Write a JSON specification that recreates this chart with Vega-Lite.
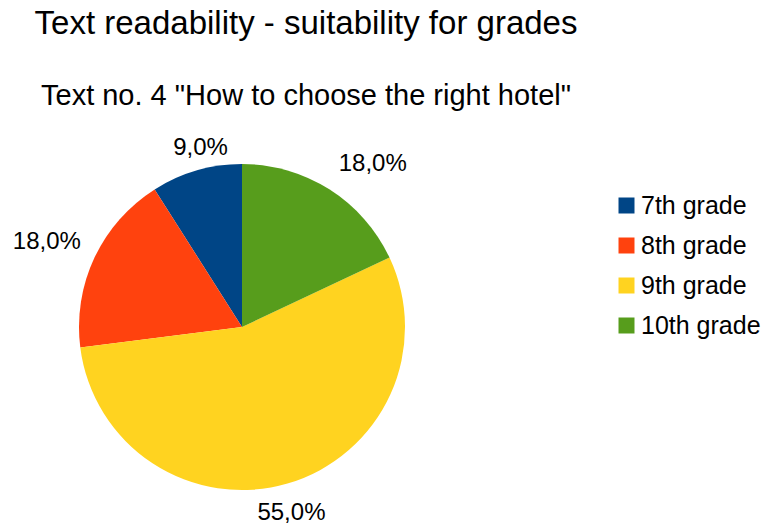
{
  "$schema": "https://vega.github.io/schema/vega-lite/v6.json",
  "autosize": {"type": "none"},
  "width": 484,
  "height": 398,
  "padding": {"left": 0, "top": 128, "right": 282, "bottom": 0},
  "background": "white",
  "title": {
    "text": "Text readability - suitability for grades",
    "subtitle": "Text no. 4 \"How to choose the right hotel\"",
    "anchor": "middle",
    "frame": "group",
    "dx": 64,
    "offset": 17,
    "font": "Liberation Sans",
    "fontSize": 33,
    "fontWeight": "normal",
    "color": "#000000",
    "subtitleFont": "Liberation Sans",
    "subtitleFontSize": 29,
    "subtitleColor": "#000000",
    "subtitlePadding": 41
  },
  "data": {
    "values": [
      {"grade": "7th grade", "grade_num": 7, "share": 0.09},
      {"grade": "8th grade", "grade_num": 8, "share": 0.18},
      {"grade": "9th grade", "grade_num": 9, "share": 0.55},
      {"grade": "10th grade", "grade_num": 10, "share": 0.18}
    ]
  },
  "encoding": {
    "theta": {"field": "share", "type": "quantitative", "stack": true},
    "order": {"field": "grade_num", "type": "quantitative", "sort": "descending"}
  },
  "layer": [
    {
      "mark": {"type": "arc", "outerRadius": 163, "strokeWidth": 0},
      "encoding": {
        "color": {
          "field": "grade",
          "type": "nominal",
          "scale": {
            "domain": ["7th grade", "8th grade", "9th grade", "10th grade"],
            "range": ["#004586", "#ff420e", "#ffd320", "#579d1c"]
          },
          "legend": {
            "title": null,
            "orient": "none",
            "legendX": 614,
            "legendY": 65,
            "padding": 0,
            "symbolType": "square",
            "symbolSize": 256,
            "symbolStrokeWidth": 0,
            "labelFont": "Liberation Sans",
            "labelFontSize": 25,
            "labelColor": "#000000",
            "labelOffset": 2,
            "rowPadding": 14,
            "labelLimit": 300
          }
        }
      }
    },
    {
      "mark": {
        "type": "text",
        "radius": 188,
        "font": "Liberation Sans",
        "fontSize": 24,
        "color": "#000000",
        "baseline": "middle",
        "align": {"expr": "datum.grade == '8th grade' ? 'right' : (datum.grade == '10th grade' ? 'left' : 'center')"},
        "dx": {"expr": "datum.grade == '8th grade' ? 9 : (datum.grade == '7th grade' ? 11 : (datum.grade == '10th grade' ? -4 : -3))"},
        "dy": {"expr": "datum.grade == '8th grade' ? -5 : (datum.grade == '9th grade' ? 5 : (datum.grade == '10th grade' ? -4 : 2))"}
      },
      "encoding": {
        "text": {"field": "share", "type": "quantitative", "format": ".1%"}
      }
    }
  ],
  "config": {
    "view": {"stroke": null},
    "locale": {
      "number": {"decimal": ",", "thousands": ".", "grouping": [3], "currency": ["", " €"]}
    }
  }
}
